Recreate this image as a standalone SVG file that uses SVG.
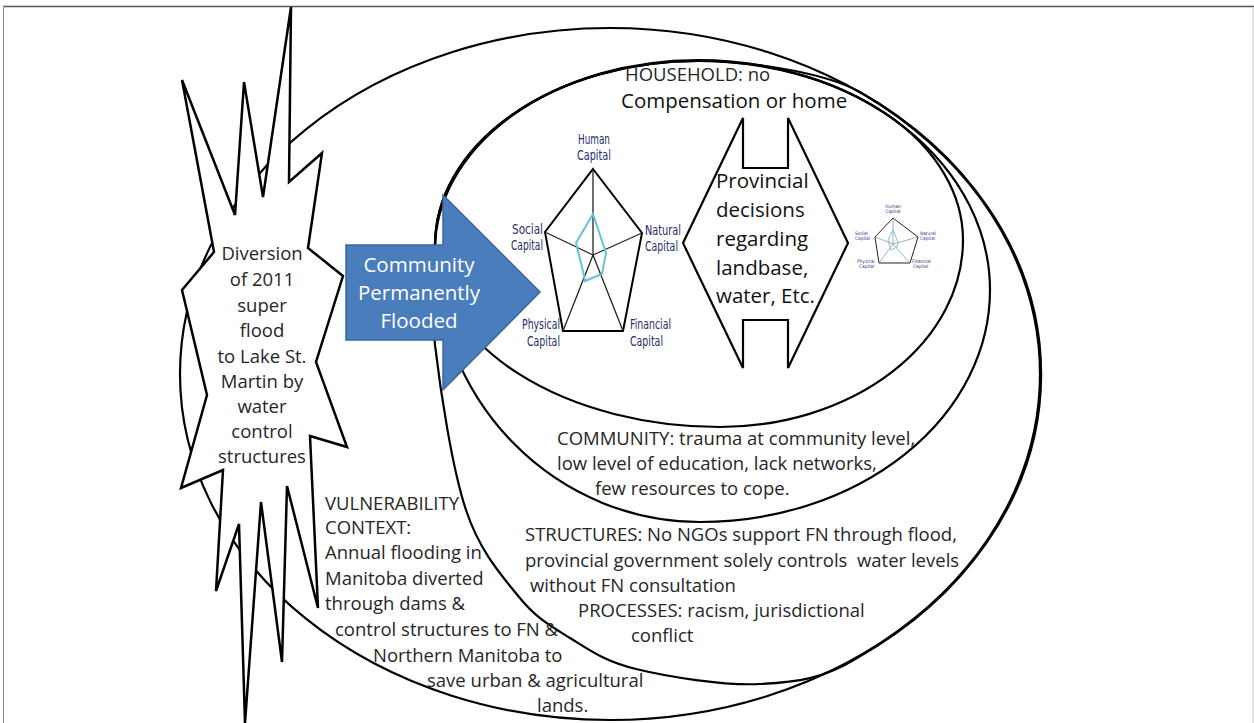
<svg xmlns="http://www.w3.org/2000/svg" width="1254" height="723" viewBox="0 0 1254 723">
<style>
.ov{fill:none;stroke:#000;stroke-width:2.2}
.t{font-family:"Open Sans","Liberation Sans",sans-serif;font-size:18.5px;fill:#262626}
.tb{font-family:"Open Sans","Liberation Sans",sans-serif;font-size:20.5px;fill:#111}
.tw{font-family:"Open Sans","Liberation Sans",sans-serif;font-size:20.5px;fill:#fff}
.cap{font-family:"DejaVu Sans Condensed","Liberation Sans Narrow","DejaVu Sans",sans-serif;font-size:14.5px;fill:#1f2d6e}
.caps{font-family:"DejaVu Sans Condensed","Liberation Sans Narrow","DejaVu Sans",sans-serif;font-size:4.8px;fill:#2b3a7c}
.pent{fill:none;stroke:#000;stroke-width:2;stroke-linejoin:miter}
.spoke{stroke:#222;stroke-width:1.3}
.cy{fill:none;stroke:#62c3d9;stroke-width:2}
</style>
<rect x="0" y="0" width="1254" height="723" fill="#fff"/>
<g id="frame">
<line x1="3" y1="6.5" x2="1254" y2="6.5" stroke="#555" stroke-width="1.6"/>
<line x1="3.5" y1="6" x2="3.5" y2="723" stroke="#8a8a8a" stroke-width="1"/>
<line x1="1253" y1="7" x2="1253" y2="723" stroke="#c8c8c8" stroke-width="1"/>
</g>
<g id="vulnerability-context">
<ellipse class="ov" cx="610" cy="374" rx="430" ry="346"/>
</g>
<g id="structures-processes">
<path class="ov" d="M 857,658 C 823.7,678.7 796.8,682.2 760,684 C 723.2,685.8 667.7,676.7 636,669 C 604.3,661.3 589.5,650 570,638 C 550.5,626 536.3,618.3 519,597 C 501.7,575.7 480,552 466,510 C 452,468 440.2,389.2 435,345 C 429.8,300.8 433.3,272.5 435,245 A 263,184 0 0 1 698,61 C 740,61 820,70 860,92 A 430,346 0 0 1 857,658 Z"/>
</g>
<g id="community">
<path class="ov" d="M 435,250 A 263,190 0 0 1 698,60 A 292,230 0 0 1 990,290 A 290,232 0 0 1 700,522 A 265,272 0 0 1 435,250 Z"/>
</g>
<g id="household">
<path class="ov" d="M 435,245 A 263,184 0 0 1 698,61 A 265,179 0 0 1 963,240 A 243,187 0 0 1 720,427 A 285,182 0 0 1 435,245 Z"/>
</g>
<g id="diversion">
<polygon points="291,7 289,182 322,153 308,248 343,276 316,362 347,447 310,436 318,608 287,486 282,662 261,502 245,723 239,524 216,591 223,470 181,488 207,395 182,290 214,252 182,80 235,215 244,82 263,197" fill="#fff" stroke="#000" stroke-width="2.5" stroke-linejoin="miter"/>
<g class="t" text-anchor="middle">
<text x="262" y="260">Diversion</text>
<text x="262" y="286">of 2011</text>
<text x="262" y="312">super</text>
<text x="262" y="337">flood</text>
<text x="262" y="363">to Lake St.</text>
<text x="262" y="388">Martin by</text>
<text x="262" y="413">water</text>
<text x="262" y="438">control</text>
<text x="262" y="463">structures</text>
</g>
</g>
<g id="flooded-arrow">
<polygon points="346,245 443,245 443,195 540,292 443,390 443,340 346,340" fill="#4a7dbc" stroke="#3a679e" stroke-width="1.5"/>
<text class="tw" x="419" y="272" text-anchor="middle">Community</text>
<text class="tw" x="419" y="300" text-anchor="middle">Permanently</text>
<text class="tw" x="419" y="328" text-anchor="middle">Flooded</text>
</g>
<g id="radar-before">
<polygon class="pent" points="593,169 642,233 623,331 563,331 545,232"/>
<line class="spoke" x1="593" y1="169" x2="593" y2="255"/>
<line class="spoke" x1="545" y1="232" x2="593" y2="255"/>
<line class="spoke" x1="642" y1="233" x2="593" y2="255"/>
<line class="spoke" x1="563" y1="331" x2="593" y2="255"/>
<line class="spoke" x1="623" y1="331" x2="593" y2="255"/>
<polygon class="cy" points="593,214 606,253 602,274 585,281 582,267 576,243"/>
<text class="cap" x="594" y="144" text-anchor="middle" textLength="32" lengthAdjust="spacingAndGlyphs">Human</text>
<text class="cap" x="594" y="160" text-anchor="middle" textLength="34" lengthAdjust="spacingAndGlyphs">Capital</text>
<text class="cap" x="512" y="234" textLength="31" lengthAdjust="spacingAndGlyphs">Social</text>
<text class="cap" x="511" y="250" textLength="32" lengthAdjust="spacingAndGlyphs">Capital</text>
<text class="cap" x="645" y="235" textLength="36" lengthAdjust="spacingAndGlyphs">Natural</text>
<text class="cap" x="645" y="251" textLength="33" lengthAdjust="spacingAndGlyphs">Capital</text>
<text class="cap" x="522" y="329" textLength="38" lengthAdjust="spacingAndGlyphs">Physical</text>
<text class="cap" x="527" y="346" textLength="33" lengthAdjust="spacingAndGlyphs">Capital</text>
<text class="cap" x="630" y="329" textLength="41" lengthAdjust="spacingAndGlyphs">Financial</text>
<text class="cap" x="630" y="346" textLength="33" lengthAdjust="spacingAndGlyphs">Capital</text>
</g>
<g id="provincial-decisions">
<polygon points="683,243 743,118 743,168 788,168 788,118 848,243 788,368 788,320 743,320 743,368" fill="#fff" stroke="#000" stroke-width="2.2" stroke-linejoin="miter"/>
<text class="tb" x="716" y="188">Provincial</text>
<text class="tb" x="716" y="217">decisions</text>
<text class="tb" x="716" y="246">regarding</text>
<text class="tb" x="716" y="275">landbase,</text>
<text class="tb" x="716" y="303">water, Etc.</text>
</g>
<g id="radar-after">
<polygon points="893,218 918,237 910,263 879,263 875,237" fill="none" stroke="#222" stroke-width="1"/>
<g stroke="#777" stroke-width="0.6">
<line x1="893" y1="218" x2="893" y2="244"/>
<line x1="875" y1="237" x2="893" y2="244"/>
<line x1="918" y1="237" x2="893" y2="244"/>
<line x1="879" y1="263" x2="893" y2="244"/>
<line x1="910" y1="263" x2="893" y2="244"/>
</g>
<polygon points="893,230 898,242 897,247 891,250 888,240" fill="none" stroke="#62c3d9" stroke-width="0.9"/>
<text class="caps" x="893" y="208" text-anchor="middle">Human</text>
<text class="caps" x="893" y="213" text-anchor="middle">Capital</text>
<text class="caps" x="855" y="235">Social</text>
<text class="caps" x="855" y="240">Capital</text>
<text class="caps" x="920" y="235">Natural</text>
<text class="caps" x="920" y="240">Capital</text>
<text class="caps" x="857" y="263">Physical</text>
<text class="caps" x="859" y="268">Capital</text>
<text class="caps" x="912" y="263">Financial</text>
<text class="caps" x="913" y="268">Capital</text>
</g>
<g id="household-label">
<text class="t" x="625" y="81">HOUSEHOLD: no</text>
<text class="tb" x="621" y="108">Compensation or home</text>
</g>
<g id="community-label" class="t">
<text x="557" y="445">COMMUNITY: trauma at community level,</text>
<text x="557" y="470">low level of education, lack networks,</text>
<text x="595" y="495">few resources to cope.</text>
</g>
<g id="structures-label" class="t">
<text x="525" y="541">STRUCTURES: No NGOs support FN through flood,</text>
<text x="525" y="567" xml:space="preserve">provincial government solely controls  water levels</text>
<text x="530" y="592">without FN consultation</text>
<text x="578" y="617">PROCESSES: racism, jurisdictional</text>
<text x="631" y="642">conflict</text>
</g>
<g id="vulnerability-label" class="t">
<text x="325" y="510">VULNERABILITY</text>
<text x="325" y="534">CONTEXT:</text>
<text x="325" y="559">Annual flooding in</text>
<text x="325" y="585">Manitoba diverted</text>
<text x="325" y="610">through dams &amp;</text>
<text x="335" y="636">control structures to FN &amp;</text>
<text x="373" y="662">Northern Manitoba to</text>
<text x="427" y="687">save urban &amp; agricultural</text>
<text x="537" y="712">lands.</text>
</g>
</svg>
